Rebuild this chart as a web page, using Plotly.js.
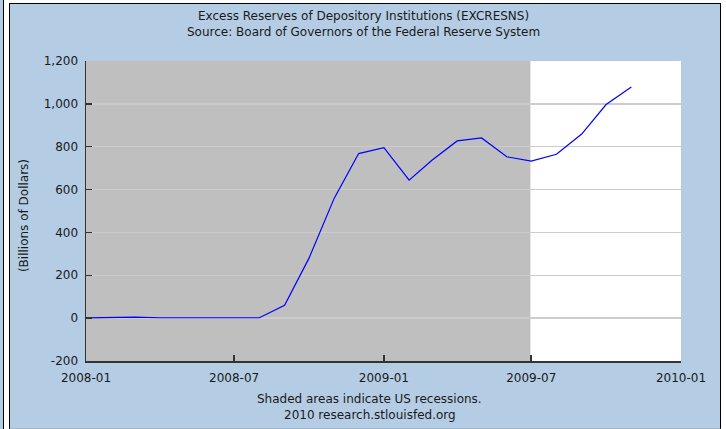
<!DOCTYPE html>
<html>
<head>
<meta charset="utf-8">
<script src="https://cdn.plot.ly/plotly-3.0.1.min.js"></script>
<style>
  html, body { margin: 0; padding: 0; background: #ffffff; }
  #wrap { position: relative; width: 726px; height: 429px; overflow: hidden; background: #ffffff; }
  #strip { position: absolute; left: 0; top: 0; width: 3px; height: 429px; background: #b4cde4; }
  #line1 { position: absolute; left: 3px; top: 0; width: 1px; height: 429px; background: #000; }
  #panel { position: absolute; left: 9px; top: 3px; width: 710px; height: 424px; background: #b4cde4;
           border-left: 1px solid #000; border-top: 1px solid #000; border-right: 1px solid #000;
           border-bottom: 2px solid #9fb6cc; }
  #chart { position: absolute; left: 0; top: 0; width: 726px; height: 429px; }
</style>
</head>
<body>
<div id="wrap">
  <div id="strip"></div>
  <div id="line1"></div>
  <div id="panel"></div>
  <div id="chart"></div>
</div>
<script>
// Monthly observations (billions of dollars)
var months = ['2008-01-01','2008-02-01','2008-03-01','2008-04-01','2008-05-01','2008-06-01',
              '2008-07-01','2008-08-01','2008-09-01','2008-10-01','2008-11-01','2008-12-01',
              '2009-01-01','2009-02-01','2009-03-01','2009-04-01','2009-05-01','2009-06-01',
              '2009-07-01','2009-08-01','2009-09-01','2009-10-01','2009-11-01'];
var reserves = [1.7, 4.5, 4.5, 1.8, 1.8, 2.0,
                1.9, 1.9, 60, 280, 560, 768,
                796, 644, 737, 827, 841, 753,
                733, 765, 859, 997, 1079];

var tickDates = ['2008-01-01','2008-07-01','2009-01-01','2009-07-01','2010-01-01'];
var tickLabels = ['2008-01','2008-07','2009-01','2009-07','2010-01'];
var yTickVals = [-200, 0, 200, 400, 600, 800, 1000, 1200];
var yTickLabels = ['-200', '0', '200', '400', '600', '800', '1,000', '1,200'];

var recessionStart = '2008-01-01';
var recessionEnd = '2009-06-30';

var titleLine1 = 'Excess Reserves of Depository Institutions (EXCRESNS)';
var titleLine2 = 'Source: Board of Governors of the Federal Reserve System';
var yTitle = '(Billions of Dollars)';
var note1 = 'Shaded areas indicate US recessions.';
var note2 = '2010 research.stlouisfed.org';

var sans = 'DejaVu Sans, Verdana, sans-serif';
var txt = '#1a1a1a';

var trace = {
  x: months, y: reserves, type: 'scatter', mode: 'lines',
  line: { color: '#0000ff', width: 1.2 }, hoverinfo: 'skip'
};

var layout = {
  width: 726, height: 429,
  margin: { l: 86, r: 45, t: 61, b: 68 },
  paper_bgcolor: 'rgba(0,0,0,0)',
  plot_bgcolor: '#ffffff',
  showlegend: false,
  xaxis: {
    type: 'date', range: ['2008-01-01', '2010-01-01'],
    tickvals: tickDates, ticktext: tickLabels,
    ticks: 'inside', ticklen: 6, tickwidth: 1.5, tickcolor: '#333333',
    showline: true, linecolor: '#333333', linewidth: 1.5,
    showgrid: false, zeroline: false, ticklabelstandoff: 5,
    tickfont: { family: sans, size: 12, color: txt },
    fixedrange: true
  },
  yaxis: {
    range: [-200, 1200], tickvals: yTickVals, ticktext: yTickLabels,
    ticks: 'inside', ticklen: 6, tickwidth: 1.5, tickcolor: '#333333',
    showline: true, linecolor: '#333333', linewidth: 1.5,
    showgrid: true, gridcolor: '#cccccc', gridwidth: 1.5,
    zeroline: false, ticklabelstandoff: 4,
    tickfont: { family: sans, size: 12, color: txt },
    fixedrange: true
  },
  shapes: [{
    type: 'rect', xref: 'x', yref: 'paper',
    x0: recessionStart, x1: recessionEnd, y0: 0, y1: 1,
    fillcolor: '#bfbfbf', line: { width: 0 }, layer: 'between'
  }],
  annotations: [
    { text: titleLine1, xref: 'paper', yref: 'paper', x: 0.4672, y: 1.150, xanchor: 'center', yanchor: 'middle',
      showarrow: false, font: { family: sans, size: 12, color: txt } },
    { text: titleLine2, xref: 'paper', yref: 'paper', x: 0.4672, y: 1.097, xanchor: 'center', yanchor: 'middle',
      showarrow: false, font: { family: sans, size: 12, color: txt } },
    { text: yTitle, xref: 'paper', yref: 'paper', x: -0.1042, y: 0.483, xanchor: 'center', yanchor: 'middle',
      textangle: -90, showarrow: false, font: { family: sans, size: 12, color: txt } },
    { text: note1, xref: 'paper', yref: 'paper', x: 0.4765, y: -0.127, xanchor: 'center', yanchor: 'middle',
      showarrow: false, font: { family: sans, size: 12, color: txt } },
    { text: note2, xref: 'paper', yref: 'paper', x: 0.4765, y: -0.180, xanchor: 'center', yanchor: 'middle',
      showarrow: false, font: { family: sans, size: 12, color: txt } }
  ]
};

Plotly.newPlot('chart', [trace], layout, { staticPlot: true, displayModeBar: false });
</script>
</body>
</html>
